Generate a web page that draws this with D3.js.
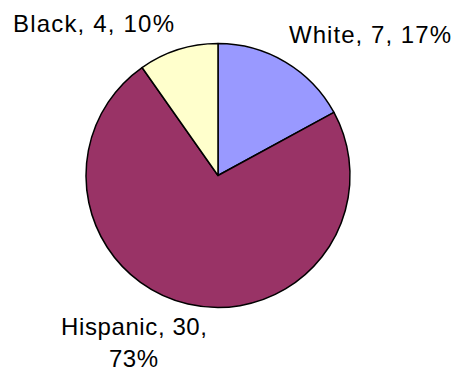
<!DOCTYPE html>
<html>
<head>
<meta charset="utf-8">
<script src="https://cdn.jsdelivr.net/npm/d3@7"></script>
<style>
html,body{margin:0;padding:0;background:#fff;}
svg{display:block;}
text{font-family:"Liberation Sans",Arial,sans-serif;font-size:24px;fill:#000;}
</style>
</head>
<body>
<svg id="chart" width="455" height="371"></svg>
<script>
const categories = ["White", "Hispanic", "Black"];
const values = [7, 30, 4];
const percents = ["17%", "73%", "10%"];
const colors = ["#9999FF", "#993366", "#FFFFCC"];

const svg = d3.select("#chart");
const cx = 218, cy = 175.5, r = 132;

const pie = d3.pie().sort(null).value(d => d.value);
const data = categories.map((c, i) => ({name: c, value: values[i], pct: percents[i], color: colors[i]}));
const arcs = pie(data);
const arc = d3.arc().innerRadius(0).outerRadius(r);

const g = svg.append("g").attr("transform", `translate(${cx},${cy})`);
g.selectAll("path").data(arcs).enter().append("path")
  .attr("d", arc)
  .attr("fill", d => d.data.color)
  .attr("stroke", "#000")
  .attr("stroke-width", 1.5)
  .attr("stroke-linejoin", "round");

// labels
const labelPos = {
  "White": [{x: 289, y: 43, w: 162, t: d => `${d.name}, ${d.value}, ${d.pct}`}],
  "Black": [{x: 13, y: 32, w: 161, t: d => `${d.name}, ${d.value}, ${d.pct}`}],
  "Hispanic": [{x: 61, y: 335, w: 146, t: d => `${d.name}, ${d.value},`}, {x: 109, y: 367, w: 49, t: d => d.pct}]
};
data.forEach(d => {
  labelPos[d.name].forEach(p => {
    svg.append("text").attr("x", p.x).attr("y", p.y)
      .attr("textLength", p.w).attr("lengthAdjust", "spacing")
      .text(p.t(d));
  });
});
</script>
</body>
</html>
